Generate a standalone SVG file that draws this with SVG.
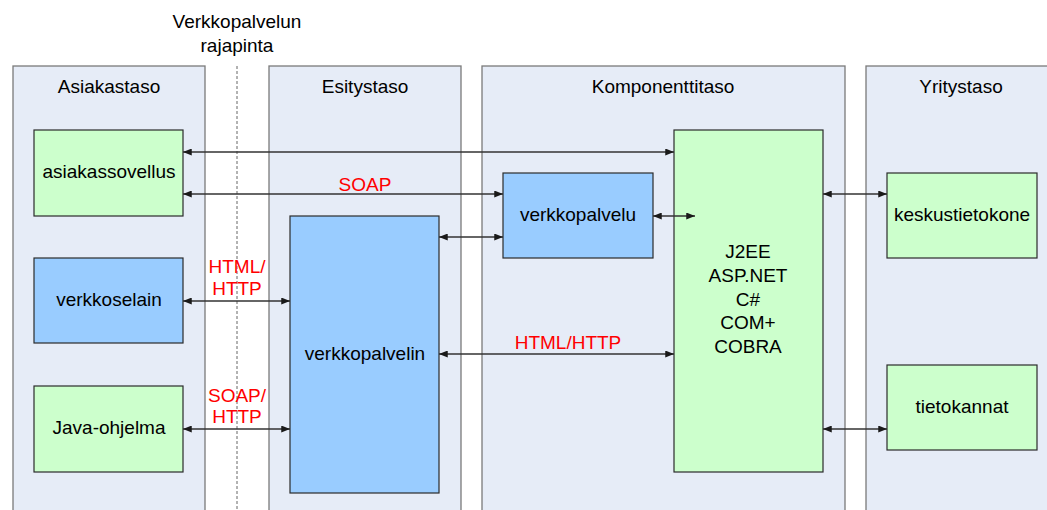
<svg xmlns="http://www.w3.org/2000/svg" width="1047" height="510" viewBox="0 0 1047 510">
  <defs>
    <marker id="arrow" viewBox="0 0 10 8" refX="10" refY="4" markerWidth="9" markerHeight="7" markerUnits="userSpaceOnUse" orient="auto-start-reverse">
      <path d="M0,0 L10,4 L0,8 Z" fill="#1a1a1a"/>
    </marker>
    <style>
      .lane { fill: #e6ecf7; stroke: #7a7a7a; stroke-width: 1.3; }
      .green { fill: #ccffcc; stroke: #2b2b2b; stroke-width: 1.2; }
      .blue { fill: #99ccff; stroke: #2b2b2b; stroke-width: 1.2; }
      text { font-family: "Liberation Sans", Arial, sans-serif; font-size: 19px; fill: #000; text-anchor: middle; }
      .red { fill: #ff0000; }
      .conn line { stroke: #333; stroke-width: 1.3; marker-start: url(#arrow); marker-end: url(#arrow); }
      .divider { stroke: #666; stroke-width: 1; stroke-dasharray: 3 2; }
    </style>
  </defs>

  <rect width="1047" height="510" fill="#ffffff"/>

  <!-- swimlanes -->
  <g id="lane-asiakastaso">
    <rect class="lane" x="13" y="66" width="192" height="460"/>
    <text x="109" y="93">Asiakastaso</text>
  </g>
  <g id="lane-esitystaso">
    <rect class="lane" x="269" y="66" width="192" height="460"/>
    <text x="365" y="93">Esitystaso</text>
  </g>
  <g id="lane-komponenttitaso">
    <rect class="lane" x="482" y="66" width="363" height="460"/>
    <text x="663" y="93">Komponenttitaso</text>
  </g>
  <g id="lane-yritystaso">
    <rect class="lane" x="866" y="66" width="192" height="460"/>
    <text x="961" y="93">Yritystaso</text>
  </g>

  <!-- web service interface boundary -->
  <g id="rajapinta">
    <text x="237" y="28">Verkkopalvelun</text>
    <text x="237" y="52">rajapinta</text>
    <line class="divider" x1="237" y1="66" x2="237" y2="510"/>
  </g>

  <!-- nodes -->
  <g id="asiakassovellus">
    <rect class="green" x="34" y="130" width="149" height="86"/>
    <text x="109" y="178">asiakassovellus</text>
  </g>
  <g id="verkkoselain">
    <rect class="blue" x="34" y="258" width="149" height="85"/>
    <text x="109" y="306">verkkoselain</text>
  </g>
  <g id="java-ohjelma">
    <rect class="green" x="34" y="386" width="149" height="86"/>
    <text x="109" y="434">Java-ohjelma</text>
  </g>
  <g id="verkkopalvelin">
    <rect class="blue" x="290" y="216" width="149" height="277"/>
    <text x="365" y="360">verkkopalvelin</text>
  </g>
  <g id="verkkopalvelu">
    <rect class="blue" x="503" y="173" width="150" height="85"/>
    <text x="578" y="221">verkkopalvelu</text>
  </g>
  <g id="sovelluspalvelin">
    <rect class="green" x="674" y="130" width="149" height="342"/>
    <text x="748" y="258">J2EE</text>
    <text x="748" y="282">ASP.NET</text>
    <text x="748" y="306">C#</text>
    <text x="748" y="329">COM+</text>
    <text x="748" y="353">COBRA</text>
  </g>
  <g id="keskustietokone">
    <rect class="green" x="887" y="173" width="150" height="85"/>
    <text x="962" y="221">keskustietokone</text>
  </g>
  <g id="tietokannat">
    <rect class="green" x="887" y="365" width="150" height="85"/>
    <text x="962" y="413">tietokannat</text>
  </g>

  <!-- connectors -->
  <g id="connectors" class="conn">
    <line x1="183" y1="152" x2="674" y2="152"/>
    <line x1="183" y1="194" x2="503" y2="194"/>
    <line x1="439" y1="237" x2="503" y2="237"/>
    <line x1="653" y1="216" x2="695" y2="216"/>
    <line x1="183" y1="301" x2="290" y2="301"/>
    <line x1="183" y1="429" x2="290" y2="429"/>
    <line x1="439" y1="354" x2="674" y2="354"/>
    <line x1="823" y1="194" x2="887" y2="194"/>
    <line x1="823" y1="429" x2="887" y2="429"/>
  </g>

  <!-- protocol labels -->
  <g id="labels">
    <text class="red" x="365" y="191">SOAP</text>
    <text class="red" x="237" y="273">HTML/</text>
    <text class="red" x="237" y="295">HTTP</text>
    <text class="red" x="237" y="402">SOAP/</text>
    <text class="red" x="237" y="423">HTTP</text>
    <text class="red" x="568" y="349">HTML/HTTP</text>
  </g>
</svg>
